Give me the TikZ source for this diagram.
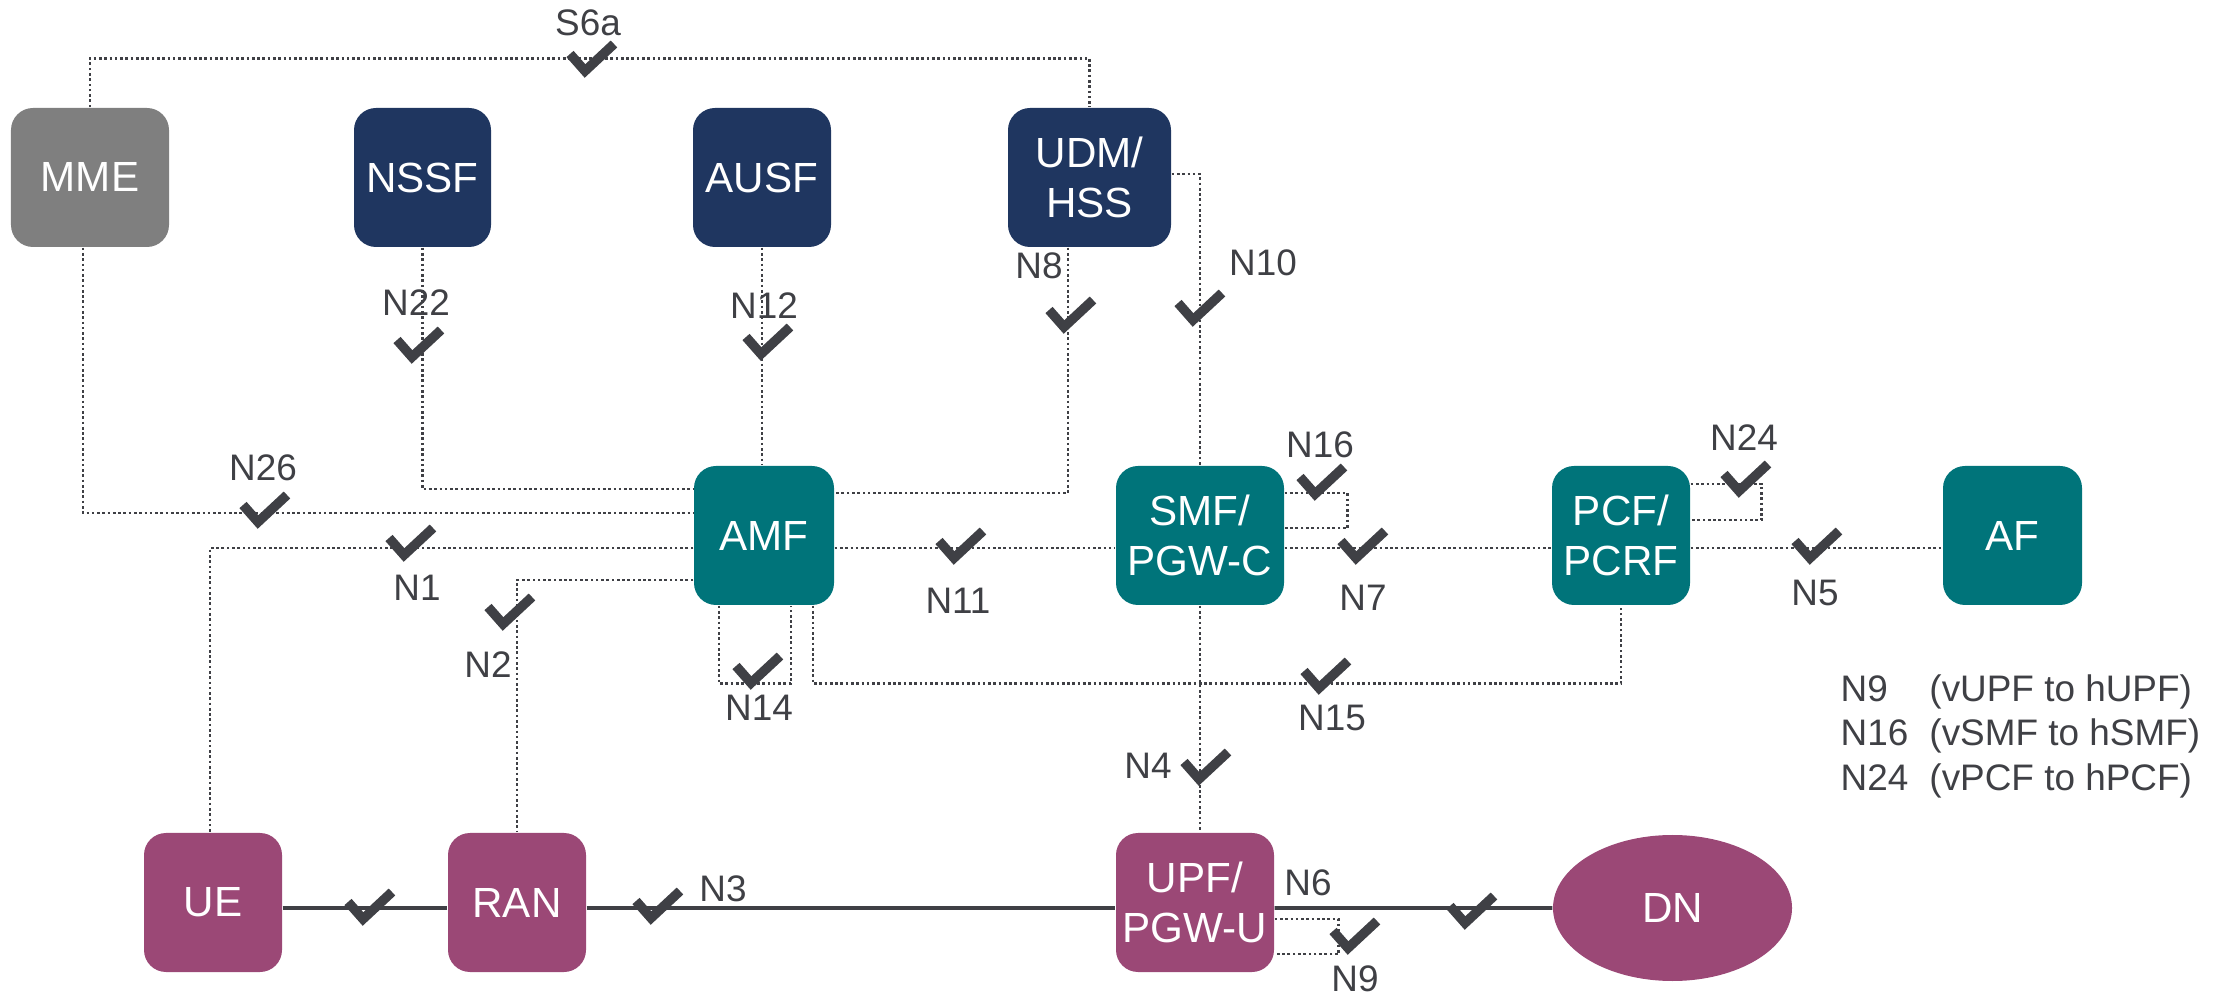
\documentclass[tikz,border=0pt]{standalone}
\usepackage{fontspec}
\setmainfont{Liberation Sans}
\usepackage{xcolor}
\usetikzlibrary{shapes.geometric}

\definecolor{nfgray}{HTML}{7F7F7F}
\definecolor{nfnavy}{HTML}{1F3660}
\definecolor{nfteal}{HTML}{00747A}
\definecolor{nfplum}{HTML}{9B4876}
\definecolor{ink}{HTML}{3F4045}

\begin{document}
\begin{tikzpicture}[
    nf/.style={rounded corners=0.22cm, minimum height=1.39cm, inner sep=0pt, align=center, text=white, font=\fontsize{12}{14}\selectfont},
    lbl/.style={text=ink, inner sep=0pt, font=\fontsize{10.5}{12.8}\selectfont},
    iface/.style={ink, line width=0.75pt, dash pattern=on 0.75pt off 0.75pt},
    user/.style={ink, line width=1pt},
    chk/.pic={\draw[ink, line width=2.7pt, line join=miter] (-0.22,0.05) -- (-0.07,-0.12) -- (0.22,0.15);}
]
    \useasboundingbox (0,0) rectangle (22.32,9.96);

    % Top row
    \node[nf, fill=nfgray, minimum width=1.58cm] (mme) at (0.90,8.185) {MME};
    \node[nf, fill=nfnavy, minimum width=1.37cm] (nssf) at (4.225,8.185) {NSSF};
    \node[nf, fill=nfnavy, minimum width=1.38cm] (ausf) at (7.62,8.185) {AUSF};
    \node[nf, fill=nfnavy, minimum width=1.63cm] (udm) at (10.895,8.185) {UDM/\\HSS};

    % Middle row
    \node[nf, fill=nfteal, minimum width=1.40cm] (amf) at (7.64,4.605) {AMF};
    \node[nf, fill=nfteal, minimum width=1.68cm] (smf) at (12.00,4.605) {SMF/\\PGW-C};
    \node[nf, fill=nfteal, minimum width=1.38cm] (pcf) at (16.21,4.605) {PCF/\\PCRF};
    \node[nf, fill=nfteal, minimum width=1.39cm] (af) at (20.125,4.605) {AF};

    % Bottom row
    \node[nf, fill=nfplum, minimum width=1.38cm] (ue) at (2.13,0.935) {UE};
    \node[nf, fill=nfplum, minimum width=1.38cm] (ran) at (5.17,0.935) {RAN};
    \node[nf, fill=nfplum, minimum width=1.58cm] (upf) at (11.95,0.935) {UPF/\\PGW-U};
    \node[ellipse, fill=nfplum, minimum width=2.39cm, minimum height=1.46cm, inner sep=0pt, text=white, font=\fontsize{12}{14}\selectfont] (dn) at (16.725,0.88) {DN};

    % Control plane
    \draw[iface] (mme.north) -- ++(0,0.49) -| (udm.north);
    \draw[iface] ([xshift=-0.07cm]mme.south) |- ([yshift=0.225cm]amf.west);
    \draw[iface] (nssf.south) |- ([yshift=0.465cm]amf.west);
    \draw[iface] (ausf.south) -- (ausf.south |- amf.north);
    \draw[iface] ([xshift=-0.215cm]udm.south) |- ([yshift=0.425cm]amf.east);
    \draw[iface] ([yshift=0.035cm]udm.east) -| (smf.north);
    \draw[iface] ([yshift=-0.125cm]amf.west) -| ([xshift=-0.03cm]ue.north);
    \draw[iface] ([yshift=-0.445cm]amf.west) -| (ran.north);
    \draw[iface] ([yshift=-0.125cm]amf.east) -- ([yshift=-0.125cm]smf.west);
    \draw[iface] ([yshift=-0.125cm]smf.east) -- ([yshift=-0.125cm]pcf.west);
    \draw[iface] ([yshift=-0.125cm]pcf.east) -- ([yshift=-0.125cm]af.west);
    \draw[iface] ([yshift=0.425cm]smf.east) -- ++(0.63,0) |- ([yshift=0.075cm]smf.east);
    \draw[iface] ([yshift=0.515cm]pcf.east) -- ++(0.71,0) |- ([yshift=0.155cm]pcf.east);
    \draw[iface] ([xshift=-0.45cm]amf.south) -- ++(0,-0.78) -| ([xshift=0.27cm]amf.south);
    \draw[iface] ([xshift=0.49cm]amf.south) -- ++(0,-0.78) -| (pcf.south);
    \draw[iface] (smf.south) -- (smf.south |- upf.north);
    \draw[iface] ([yshift=-0.165cm]upf.east) -- ++(0.64,0) |- ([yshift=-0.515cm]upf.east);

    % User plane
    \draw[user] ([yshift=-0.055cm]ue.east) -- ([yshift=-0.055cm]ran.west);
    \draw[user] ([yshift=-0.055cm]ran.east) -- ([yshift=-0.055cm]upf.west);
    \draw[user] ([yshift=-0.055cm]upf.east) -- (dn.west);

    % Checks
    \pic at (5.92,9.37) {chk};
    \pic at (2.65,4.86) {chk};
    \pic at (4.19,6.51) {chk};
    \pic at (7.68,6.54) {chk};
    \pic at (10.71,6.81) {chk};
    \pic at (12.00,6.88) {chk};
    \pic at (4.11,4.53) {chk};
    \pic at (5.10,3.84) {chk};
    \pic at (9.61,4.50) {chk};
    \pic at (13.63,4.50) {chk};
    \pic at (18.17,4.50) {chk};
    \pic at (13.22,5.14) {chk};
    \pic at (17.46,5.17) {chk};
    \pic at (7.58,3.25) {chk};
    \pic at (13.26,3.20) {chk};
    \pic at (12.06,2.29) {chk};
    \pic at (3.70,0.89) {chk};
    \pic at (6.58,0.90) {chk};
    \pic at (14.72,0.85) {chk};
    \pic at (13.55,0.60) {chk};

    % Labels
    \node[lbl] (l-s6a) at (5.88,9.73) {S6a};
    \node[lbl] (l-n26) at (2.63,5.28) {N26};
    \node[lbl] (l-n22) at (4.16,6.93) {N22};
    \node[lbl] (l-n12) at (7.64,6.90) {N12};
    \node[lbl] (l-n8) at (10.39,7.30) {N8};
    \node[lbl] (l-n10) at (12.63,7.33) {N10};
    \node[lbl] (l-n1) at (4.17,4.08) {N1};
    \node[lbl] (l-n2) at (4.88,3.31) {N2};
    \node[lbl] (l-n11) at (9.58,3.95) {N11};
    \node[lbl] (l-n7) at (13.63,3.98) {N7};
    \node[lbl] (l-n5) at (18.15,4.03) {N5};
    \node[lbl] (l-n16) at (13.20,5.51) {N16};
    \node[lbl] (l-n24) at (17.44,5.58) {N24};
    \node[lbl] (l-n14) at (7.59,2.88) {N14};
    \node[lbl] (l-n15) at (13.32,2.78) {N15};
    \node[lbl] (l-n4) at (11.48,2.30) {N4};
    \node[lbl] (l-n3) at (7.23,1.07) {N3};
    \node[lbl] (l-n6) at (13.08,1.13) {N6};
    \node[lbl] (l-n9) at (13.55,0.17) {N9};

    % Legend
    \node[lbl, anchor=west] (legend) at (18.40,2.59) {\begin{tabular}{@{}l@{\hspace{6pt}}l@{}}
        N9 & (vUPF to hUPF)\\
        N16 & (vSMF to hSMF)\\
        N24 & (vPCF to hPCF)
    \end{tabular}};
\end{tikzpicture}
\end{document}
